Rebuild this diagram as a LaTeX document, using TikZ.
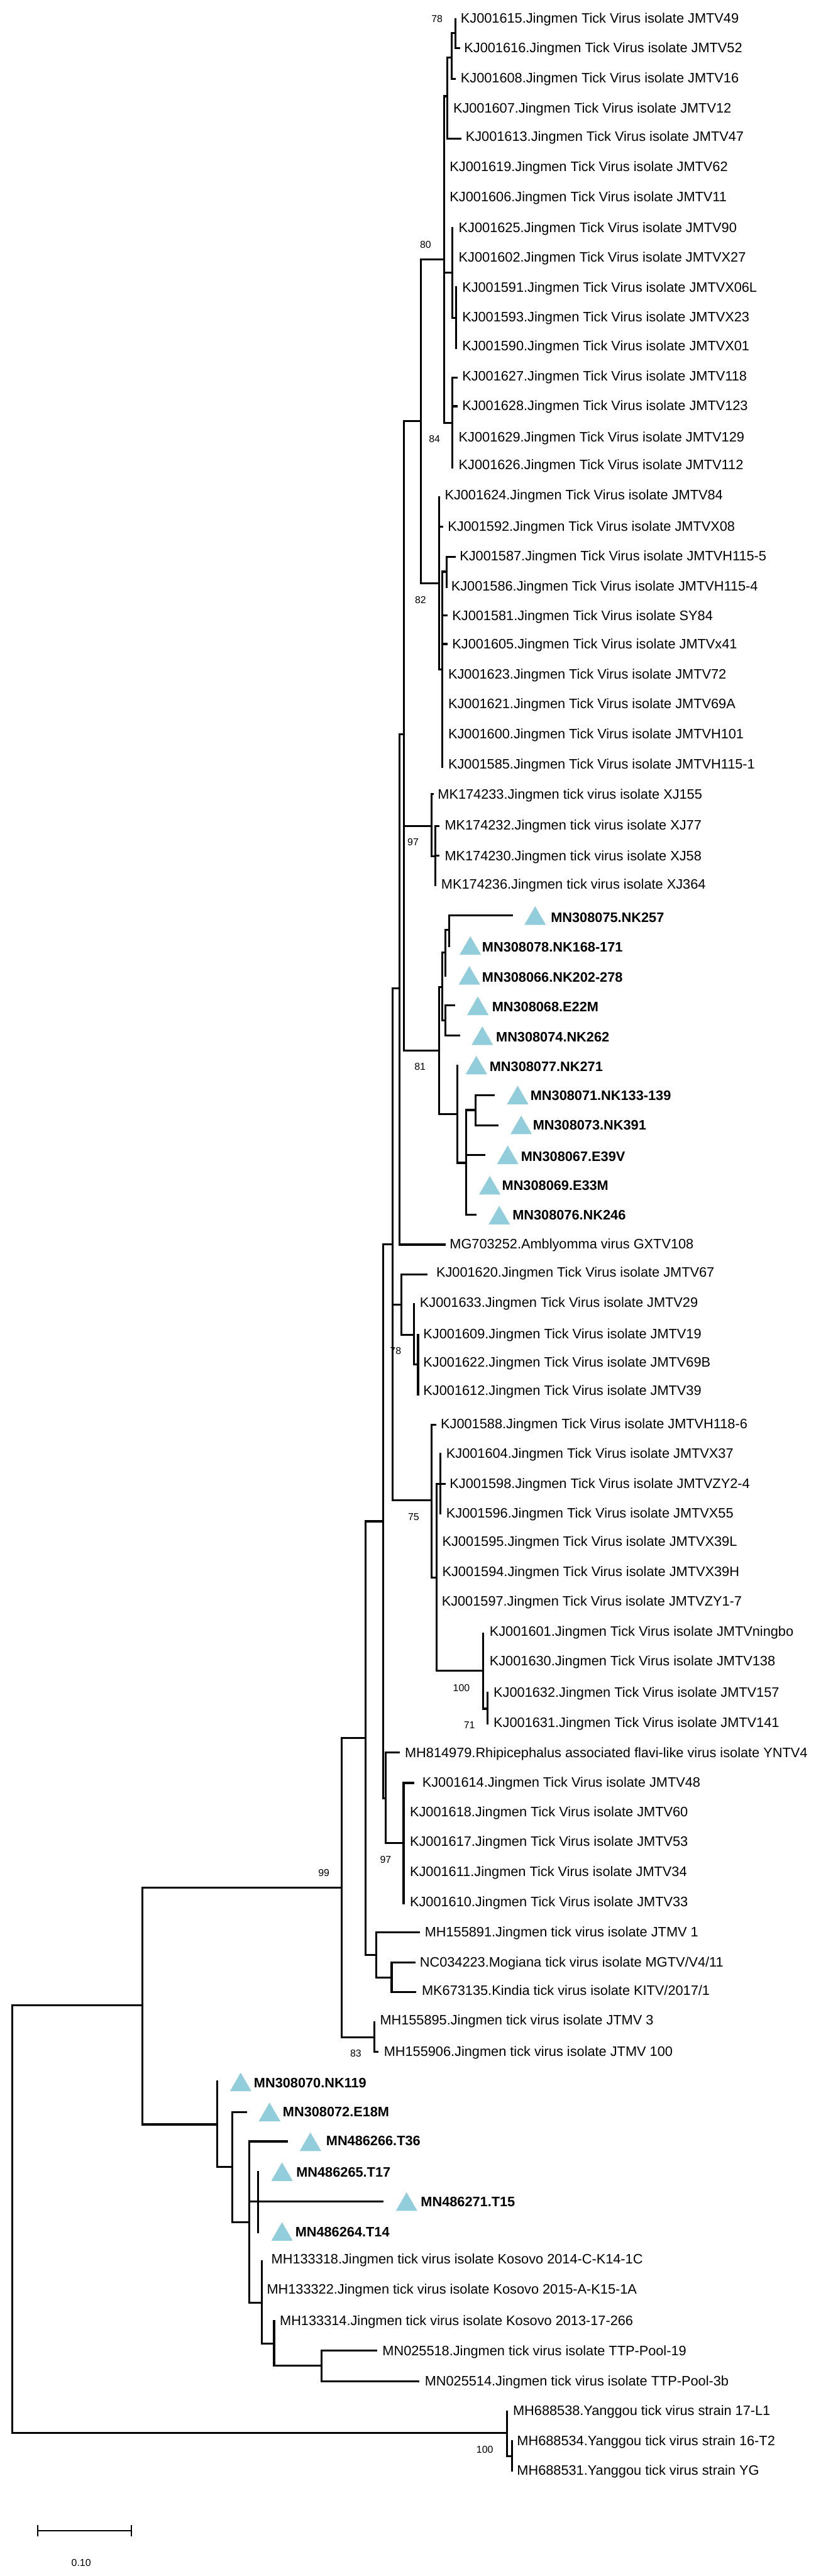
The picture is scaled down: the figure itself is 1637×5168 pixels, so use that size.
\documentclass[tikz,border=0pt]{standalone}
\usepackage{fontspec}
\setmainfont{Liberation Sans}
\usetikzlibrary{shapes.geometric}
\definecolor{markblue}{RGB}{146,205,220}
\tikzset{%
  branch/.style={draw=black, line width=1.15pt},
  leaf/.style={anchor=west, inner sep=0pt, text height=0.197cm, text depth=0pt, font=\fontsize{7.8}{9}\selectfont},
  ownleaf/.style={leaf, font=\fontsize{7.8}{9}\selectfont\bfseries},
  support/.style={inner sep=0pt, font=\fontsize{5.7}{7}\selectfont},
  mark tri/.style={regular polygon, regular polygon sides=3, fill=markblue, inner sep=0pt, outer sep=0pt, minimum size=0.4965cm}
}

\begin{document}
\begin{tikzpicture}[x=0.01cm, y=-0.01cm]
\useasboundingbox (0,0) rectangle (1637,5168);
\fill [white] (0,0) rectangle (1637,5168);

\coordinate (R) at (25,4452);

% inner nodes
\foreach \n / \p / \x / \y in {A/R/286/4023, Y/R/1018/4881, Y1/Y/1028/4928,
  B/A/686/3787, K/A/436/4262, C/B/734/3487, D/B/751/4087, E/C/769/3052,
  F/C/755/3922, F1/F/786/3967, E1/E/788/2496, E2/E/774/3608, E3/E2/810/3697,
  G1/E1/802/1983, G2/E1/806/2617, G3/E1/866/3010, G4/G2/831/2678, G5/G4/839/2737,
  H1/G3/876/3165, H2/H1/884/2977, H3/H1/970/3352, H4/H3/978/3428,
  J1/G1/811/1473, J2/J1/845/845, J3/J1/866/1657, J4/J3/874/1718, J5/J1/881/2108,
  L1/J2/891/520, L2/J2/881/1170, L3/L2/888/1343, L4/L3/896/1147,
  M1/L1/898/193, M2/M1/907/115, M3/M2/914/66, M4/L1/908/547, M5/M4/915/638, M6/L1/908/848,
  N1/J5/888/1980, N2/N1/894/1911, N3/N2/901/1865, N4/N1/894/2047,
  N5/J5/918/2235, N6/N5/936/2333, N7/N6/954/2227,
  K1/K/466/4347, K2/K1/500/4458, K3/K2/518/4417, K4/K2/525/4620, K5/K4/550/4702, K6/K5/645/4746}{
  \coordinate (\n) at (\x,\y);
  \draw [branch] (\p) |- (\n);
}

% reference sequences
\foreach \id / \p / \x / \y / \lx / \ly / \lab in {
  KJ001615/M3/914/36/924/36/KJ001615.Jingmen Tick Virus isolate JMTV49,
  KJ001616/M3/923/97/931/96/KJ001616.Jingmen Tick Virus isolate JMTV52,
  KJ001608/M2/915/158/924/156/KJ001608.Jingmen Tick Virus isolate JMTV16,
  KJ001607/M1/898/216/909/216/KJ001607.Jingmen Tick Virus isolate JMTV12,
  KJ001613/M1/926/278/934/274/KJ001613.Jingmen Tick Virus isolate JMTV47,
  KJ001619/L1/891/334/902/334/KJ001619.Jingmen Tick Virus isolate JMTV62,
  KJ001606/L1/891/394/902/394/KJ001606.Jingmen Tick Virus isolate JMTV11,
  KJ001625/M4/908/456/920/456/KJ001625.Jingmen Tick Virus isolate JMTV90,
  KJ001602/M4/908/516/920/516/KJ001602.Jingmen Tick Virus isolate JMTVX27,
  KJ001591/M5/915/574/927/576/KJ001591.Jingmen Tick Virus isolate JMTVX06L,
  KJ001593/M5/915/635/927/635/KJ001593.Jingmen Tick Virus isolate JMTVX23,
  KJ001590/M5/915/700/927/694/KJ001590.Jingmen Tick Virus isolate JMTVX01,
  KJ001627/M6/918/758/927/754/KJ001627.Jingmen Tick Virus isolate JMTV118,
  KJ001628/M6/918/815/927/814/KJ001628.Jingmen Tick Virus isolate JMTV123,
  KJ001629/M6/908/876/920/876/KJ001629.Jingmen Tick Virus isolate JMTV129,
  KJ001626/M6/908/940/920/932/KJ001626.Jingmen Tick Virus isolate JMTV112,
  KJ001624/L2/881/995/892/993/KJ001624.Jingmen Tick Virus isolate JMTV84,
  KJ001592/L2/890/1057/898/1056/KJ001592.Jingmen Tick Virus isolate JMTVX08,
  KJ001587/L4/915/1117/922/1115/KJ001587.Jingmen Tick Virus isolate JMTVH115-5,
  KJ001586/L4/896/1180/905/1175/KJ001586.Jingmen Tick Virus isolate JMTVH115-4,
  KJ001581/L3/898/1235/907/1235/KJ001581.Jingmen Tick Virus isolate SY84,
  KJ001605/L3/898/1292/907/1292/KJ001605.Jingmen Tick Virus isolate JMTVx41,
  KJ001623/L3/888/1352/899/1352/KJ001623.Jingmen Tick Virus isolate JMTV72,
  KJ001621/L3/888/1412/899/1412/KJ001621.Jingmen Tick Virus isolate JMTV69A,
  KJ001600/L3/888/1472/899/1472/KJ001600.Jingmen Tick Virus isolate JMTVH101,
  KJ001585/L3/888/1540/899/1533/KJ001585.Jingmen Tick Virus isolate JMTVH115-1,
  MK174233/J3/870/1593/878/1593/MK174233.Jingmen tick virus isolate XJ155,
  MK174232/J4/882/1657/892/1655/MK174232.Jingmen tick virus isolate XJ77,
  MK174230/J4/882/1717/892/1717/MK174230.Jingmen tick virus isolate XJ58,
  MK174236/J4/874/1778/885/1774/MK174236.Jingmen tick virus isolate XJ364,
  MG703252/G1/894/2497/902/2495/MG703252.Amblyomma virus GXTV108,
  KJ001620/G2/858/2557/875/2552/KJ001620.Jingmen Tick Virus isolate JMTV67,
  KJ001633/G4/831/2614/842/2612/KJ001633.Jingmen Tick Virus isolate JMTV29,
  KJ001609/G5/839/2676/849/2676/KJ001609.Jingmen Tick Virus isolate JMTV19,
  KJ001622/G5/839/2732/849/2732/KJ001622.Jingmen Tick Virus isolate JMTV69B,
  KJ001612/G5/839/2800/849/2789/KJ001612.Jingmen Tick Virus isolate JMTV39,
  KJ001588/G3/876/2858/884/2856/KJ001588.Jingmen Tick Virus isolate JMTVH118-6,
  KJ001604/H2/884/2915/895/2916/KJ001604.Jingmen Tick Virus isolate JMTVX37,
  KJ001598/H2/894/2977/902/2976/KJ001598.Jingmen Tick Virus isolate JMTVZY2-4,
  KJ001596/H2/884/3038/895/3035/KJ001596.Jingmen Tick Virus isolate JMTVX55,
  KJ001595/H1/876/3092/887/3092/KJ001595.Jingmen Tick Virus isolate JMTVX39L,
  KJ001594/H1/876/3153/887/3153/KJ001594.Jingmen Tick Virus isolate JMTVX39H,
  KJ001597/H1/876/3212/886/3212/KJ001597.Jingmen Tick Virus isolate JMTVZY1-7,
  KJ001601/H3/970/3275/982/3272/KJ001601.Jingmen Tick Virus isolate JMTVningbo,
  KJ001630/H3/970/3332/982/3332/KJ001630.Jingmen Tick Virus isolate JMTV138,
  KJ001632/H4/978/3394/990/3395/KJ001632.Jingmen Tick Virus isolate JMTV157,
  KJ001631/H4/978/3460/990/3455/KJ001631.Jingmen Tick Virus isolate JMTV141,
  MH814979/E2/802/3516/812/3516/MH814979.Rhipicephalus associated flavi-like virus isolate YNTV4,
  KJ001614/E3/831/3577/847/3575/KJ001614.Jingmen Tick Virus isolate JMTV48,
  KJ001618/E3/810/3635/822/3635/KJ001618.Jingmen Tick Virus isolate JMTV60,
  KJ001617/E3/810/3694/822/3694/KJ001617.Jingmen Tick Virus isolate JMTV53,
  KJ001611/E3/810/3755/822/3755/KJ001611.Jingmen Tick Virus isolate JMTV34,
  KJ001610/E3/810/3820/822/3815/KJ001610.Jingmen Tick Virus isolate JMTV33,
  MH155891/F/843/3877/852/3875/MH155891.Jingmen tick virus isolate JTMV 1,
  NC034223/F1/834/3937/842/3936/{NC034223.Mogiana tick virus isolate MGTV/V4/11},
  MK673135/F1/835/3996/846/3993/{MK673135.Kindia tick virus isolate KITV/2017/1},
  MH155895/D/751/4055/762/4052/MH155895.Jingmen tick virus isolate JTMV 3,
  MH155906/D/760/4116/770/4115/MH155906.Jingmen tick virus isolate JTMV 100,
  MH133318/K4/525/4535/544/4532/MH133318.Jingmen tick virus isolate Kosovo 2014-C-K14-1C,
  MH133322/K4/525/4592/535/4592/MH133322.Jingmen tick virus isolate Kosovo 2015-A-K15-1A,
  MH133314/K5/550/4655/561/4655/MH133314.Jingmen tick virus isolate Kosovo 2013-17-266,
  MN025518/K6/757/4716/767/4716/MN025518.Jingmen tick virus isolate TTP-Pool-19,
  MN025514/K6/841/4777/852/4776/MN025514.Jingmen tick virus isolate TTP-Pool-3b,
  MH688538/Y/1018/4836/1029/4836/MH688538.Yanggou tick virus strain 17-L1,
  MH688534/Y1/1028/4896/1037/4896/MH688534.Yanggou tick virus strain 16-T2,
  MH688531/Y1/1028/4958/1037/4956/MH688531.Yanggou tick virus strain YG}{
  \coordinate (\id) at (\x,\y);
  \draw [branch] (\p) |- (\id);
  \node [leaf] (lab\id) at (\lx,\ly) {\lab};
}

% sequences from this study
\foreach \id / \p / \x / \y / \tx / \ty / \lx / \ly / \lab in {
  MN308075/N3/1029/1836/1074/1843/1105/1841/MN308075.NK257,
  MN308078/N3/901/1900/944/1903/967/1900/MN308078.NK168-171,
  MN308066/N2/894/1960/942/1963/967/1960/MN308066.NK202-278,
  MN308068/N4/914/2017/959/2024/987/2020/MN308068.E22M,
  MN308074/N4/924/2077/968/2084/995/2080/MN308074.NK262,
  MN308077/N5/918/2136/956/2143/982/2140/MN308077.NK271,
  MN308071/N7/993/2197/1039/2203/1064/2198/MN308071.NK133-139,
  MN308073/N7/1001/2258/1046/2263/1069/2257/MN308073.NK391,
  MN308067/N6/974/2317/1019/2323/1045/2320/MN308067.E39V,
  MN308069/N6/936/2378/983/2384/1007/2378/MN308069.E33M,
  MN308076/N6/956/2437/1002/2444/1028/2437/MN308076.NK246,
  MN308070/K/436/4174/483/4183/509/4178/MN308070.NK119,
  MN308072/K1/496/4237/541/4243/567/4237/MN308072.E18M,
  MN486266/K2/578/4296/623/4303/654/4295/MN486266.T36,
  MN486265/K3/518/4355/566/4363/594/4357/MN486265.T17,
  MN486271/K3/770/4417/816/4423/844/4417/MN486271.T15,
  MN486264/K3/518/4480/566/4483/592/4478/MN486264.T14}{
  \coordinate (\id) at (\x,\y);
  \draw [branch] (\p) |- (\id);
  \node [mark tri] (tri\id) at (\tx,\ty) {};
  \node [ownleaf] (lab\id) at (\lx,\ly) {\lab};
}

% support values
\foreach \i / \x / \y / \v in {a/877/38/78, b/854/491/80, c/872/881/84, d/844/1204/82,
  e/829/1690/97, f/843/2140/81, g/794/2710/78, h/830/3043/75, i/926/3386/100, j/942/3461/71,
  k/650/3757/99, l/774/3731/97, m/714/4120/83, n/973/4915/100}{
  \node [support] (bs\i) at (\x,\y) {\v};
}

% scale
\coordinate (barL) at (76,5077);
\coordinate (barR) at (264,5077);
\coordinate (barLt) at (76,5066);
\coordinate (barLb) at (76,5088);
\coordinate (barRt) at (264,5066);
\coordinate (barRb) at (264,5088);
\draw [line width=0.6pt] (barL) -- (barR);
\draw [line width=0.6pt] (barLt) -- (barLb);
\draw [line width=0.6pt] (barRt) -- (barRb);
\node [support] (scale) at (163,5141) {0.10};

\end{tikzpicture}
\end{document}
